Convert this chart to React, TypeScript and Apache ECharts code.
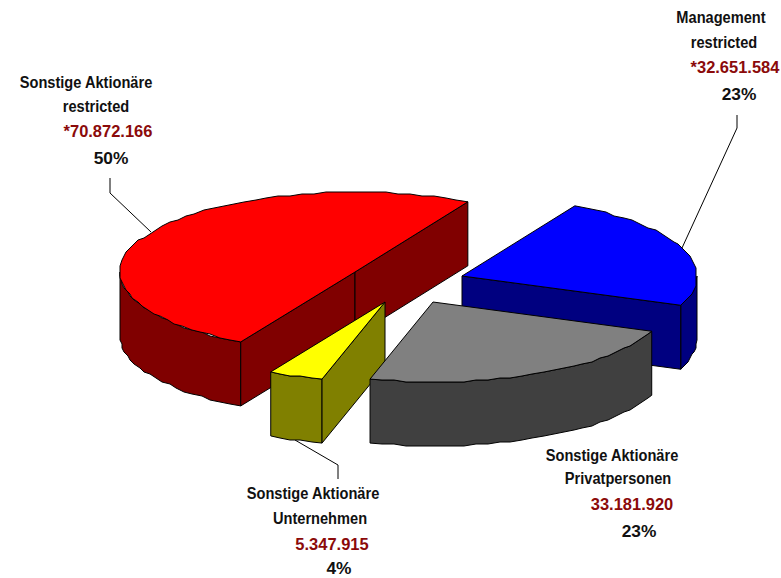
import React, { useEffect, useRef } from "react";
import * as echarts from "echarts";

// Slices in clockwise order, starting from the top of the blue slice.
const sliceNames = ["Management restricted", "Sonstige Aktionäre Privatpersonen", "Sonstige Aktionäre Unternehmen", "Sonstige Aktionäre restricted"];
const sliceValues = [32651584, 33181920, 5347915, 70872166];
const valueLabels = ["*32.651.584", "33.181.920", "5.347.915", "*70.872.166"];
const percentLabels = ["23%", "23%", "4%", "50%"];
const topColors = ["#0000FF", "#808080", "#FFFF00", "#FF0000"];
const sideColors = ["#000080", "#404040", "#808000", "#800000"];
const drawOrder = [3, 0, 2, 1];

// Projection of the pie
const RX = 235;
const RY = 80;
const DEPTH = 64;
const START_DEG = 61.3;
const centers = [[462, 276], [433, 302], [385, 302], [355, 272]];

const total = sliceValues.reduce((a, b) => a + b, 0);
const angleStarts: number[] = [];
{
  let acc = START_DEG;
  for (const v of sliceValues) {
    angleStarts.push(acc);
    acc -= (v / total) * 360;
  }
}

const rad = (d: number) => (d * Math.PI) / 180;
const snap = (v: number) => Math.round(v / 2) * 2;

// The reference's rims are slightly stepped, so interior rim points sit on a coarse grid.
function arcPoints(cx: number, cy: number, a0: number, a1: number, dy = 0) {
  const n = Math.max(2, Math.ceil(Math.abs(a0 - a1) / 3));
  const out: number[][] = [];
  for (let i = 0; i <= n; i++) {
    const t = rad(a0 + ((a1 - a0) * i) / n);
    const x = cx + RX * Math.cos(t);
    const y = cy - RY * Math.sin(t) + dy;
    out.push(i === 0 || i === n ? [x, y] : [snap(x), snap(y)]);
  }
  return out;
}

function renderSlice(params: any, api: any) {
  const idx = api.value(1) as number;
  const sweep = (api.value(0) / total) * 360;
  const a0 = angleStarts[idx];
  const a1 = a0 - sweep;
  const [cx, cy] = centers[idx];
  const side = sideColors[idx];
  const style = { stroke: "#000", lineWidth: 1, lineJoin: "round" };
  const children: any[] = [];
  const poly = (points: number[][], fill: string) =>
    children.push({ type: "polygon", shape: { points }, style: { ...style, fill } });
  const edge = (a: number) => [cx + RX * Math.cos(rad(a)), cy - RY * Math.sin(rad(a))];

  // Outer wall: only the parts of the rim facing the viewer (angles -180..0, modulo 360)
  for (const k of [0, -360]) {
    const hi = Math.min(a0, 0 + k);
    const lo = Math.max(a1, -180 + k);
    if (hi > lo) {
      const top = arcPoints(cx, cy, hi, lo);
      const bottom = arcPoints(cx, cy, lo, hi, DEPTH);
      poly([...top, ...bottom], side);
    }
  }
  // Cut faces
  const face = (a: number) => {
    const e = edge(a);
    poly([[cx, cy], e, [e[0], e[1] + DEPTH], [cx, cy + DEPTH]], side);
  };
  if (Math.sin(rad(a0 + 90)) < 0) face(a0);
  if (Math.sin(rad(a1 - 90)) < 0) face(a1);
  // Top face
  poly([[cx, cy], ...arcPoints(cx, cy, a0, a1)], topColors[idx]);
  return { type: "group", children };
}

const labelFont = "bold 17px 'Liberation Sans', Arial, sans-serif";
const BLACK = "#111111";
const DARK_RED = "#8B0A0A";
const SX_NAME = 0.86;
const SX_VALUE = 0.97;
const SX_PCT = 1.02;

function text(t: string, x: number, y: number, fill: string, scaleX: number) {
  return {
    type: "text",
    x,
    y,
    scaleX,
    style: { text: t, x: 0, y: 0, fill, font: labelFont, textVerticalAlign: "middle", textAlign: "center" },
  };
}
function leader(points: number[][]) {
  return { type: "polyline", shape: { points }, style: { stroke: "#000", lineWidth: 1, fill: "none" } };
}

const graphics = [
  text("Sonstige Aktionäre", 86, 82, BLACK, SX_NAME),
  text("restricted", 96, 106, BLACK, SX_NAME),
  text(valueLabels[3], 108, 131, DARK_RED, SX_VALUE),
  text(percentLabels[3], 111, 158, BLACK, SX_PCT),

  text("Management", 721, 17, BLACK, SX_NAME),
  text("restricted", 724, 42, BLACK, SX_NAME),
  text(valueLabels[0], 735, 67, DARK_RED, SX_VALUE),
  text(percentLabels[0], 739, 94, BLACK, SX_PCT),

  text("Sonstige Aktionäre", 313, 493, BLACK, SX_NAME),
  text("Unternehmen", 320, 518, BLACK, SX_NAME),
  text(valueLabels[2], 332, 544, DARK_RED, SX_VALUE),
  text(percentLabels[2], 339, 568.5, BLACK, SX_PCT),

  text("Sonstige Aktionäre", 612, 455, BLACK, SX_NAME),
  text("Privatpersonen", 618, 478, BLACK, SX_NAME),
  text(valueLabels[1], 632, 504, DARK_RED, SX_VALUE),
  text(percentLabels[1], 639, 531, BLACK, SX_PCT),

  leader([[110, 178], [110, 193], [151, 232]]),
  leader([[737, 115], [737, 128], [682, 248]]),
  leader([[295, 440], [338, 465], [338, 479]]),
];

export default function App() {
  const ref = useRef<HTMLDivElement>(null);
  useEffect(() => {
    const chart = echarts.init(ref.current!, undefined, { renderer: "svg" });
    chart.setOption({
      animation: false,
      backgroundColor: "#ffffff",
      graphic: graphics,
      series: [
        {
          type: "custom",
          coordinateSystem: "none",
          renderItem: renderSlice,
          silent: true,
          data: drawOrder.map((i) => ({ name: sliceNames[i], value: [sliceValues[i], i] })),
        },
      ],
    });
    return () => chart.dispose();
  }, []);
  return <div ref={ref} style={{ position: "fixed", left: 0, top: 0, width: 781, height: 578 }} />;
}
